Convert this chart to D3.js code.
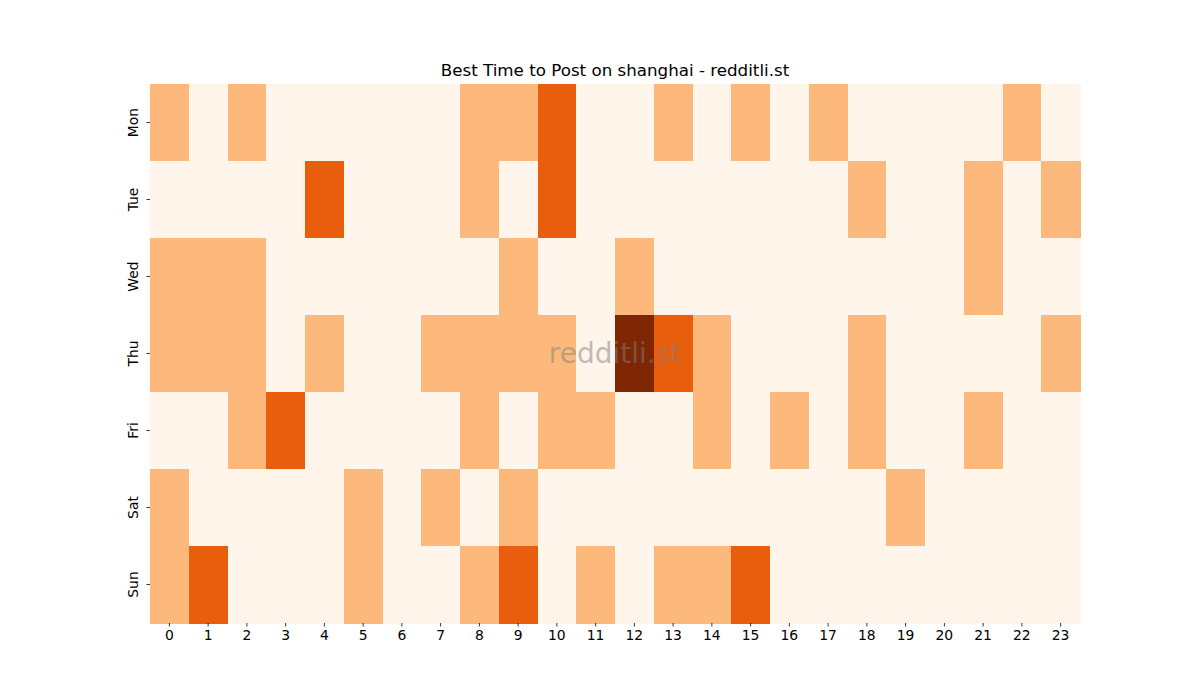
<!DOCTYPE html>
<html><head><meta charset="utf-8">
<script src="https://cdn.jsdelivr.net/npm/d3@7"></script>
<style>body{margin:0;background:#fff;}svg{display:block;font-family:"DejaVu Sans",sans-serif;}</style>
</head><body>
<svg id="c" width="1200" height="700"></svg>
<script>
const days = ["Mon","Tue","Wed","Thu","Fri","Sat","Sun"];
const hours = d3.range(24).map(String);
const monVals = [1,0,1,0,0,0,0,0,1,1,2,0,0,1,0,1,0,1,0,0,0,0,1,0];
const tueVals = [0,0,0,0,2,0,0,0,1,0,2,0,0,0,0,0,0,0,1,0,0,1,0,1];
const wedVals = [1,1,1,0,0,0,0,0,0,1,0,0,1,0,0,0,0,0,0,0,0,1,0,0];
const thuVals = [1,1,1,0,1,0,0,1,1,1,1,0,3,2,1,0,0,0,1,0,0,0,0,1];
const friVals = [0,0,1,2,0,0,0,0,1,0,1,1,0,0,1,0,1,0,1,0,0,1,0,0];
const satVals = [1,0,0,0,0,1,0,1,0,1,0,0,0,0,0,0,0,0,0,1,0,0,0,0];
const sunVals = [1,2,0,0,0,1,0,0,1,2,0,1,0,1,1,2,0,0,0,0,0,0,0,0];
const rows = [monVals,tueVals,wedVals,thuVals,friVals,satVals,sunVals];
const colorStops = ["#fff5eb","#fdb87c","#e95e0d","#7f2704"];
const titleText = "Best Time to Post on shanghai - redditli.st";
const watermark = "redditli.st";

const svg = d3.select("#c");
const L=150,R=1080,T=84,B=623;
const x = d3.scaleBand().domain(hours).range([L,R]).padding(0);
const y = d3.scaleBand().domain(days).range([T,B]).padding(0);
const color = d3.scaleOrdinal().domain([0,1,2,3]).range(colorStops);

const cells = [];
rows.forEach((r,i)=>r.forEach((v,j)=>cells.push({day:days[i],hour:hours[j],v})));
svg.append("g").selectAll("rect").data(cells).join("rect")
  .attr("x",d=>x(d.hour)).attr("y",d=>y(d.day))
  .attr("width",x.bandwidth()+0.5).attr("height",y.bandwidth()+0.5)
  .attr("fill",d=>color(d.v)).attr("shape-rendering","crispEdges");

const xa = svg.append("g").attr("transform",`translate(0,${B})`)
  .call(d3.axisBottom(x).tickSize(3.5).tickPadding(3.5));
xa.select(".domain").remove();
xa.selectAll("text").attr("font-size","13.9px").attr("fill","#000").attr("font-family","DejaVu Sans");
xa.selectAll("line").attr("stroke","#000").attr("stroke-width",0.8);

const ya = svg.append("g").attr("transform",`translate(${L},0)`)
  .call(d3.axisLeft(y).tickSize(3.5).tickPadding(3.5));
ya.select(".domain").remove();
ya.selectAll("line").attr("stroke","#000").attr("stroke-width",0.8);
ya.selectAll("text").attr("font-size","13.9px").attr("fill","#000").attr("font-family","DejaVu Sans")
  .attr("x",null).attr("dy",null)
  .attr("text-anchor","middle")
  .attr("transform","translate(-12.5,0) rotate(-90)")
  .attr("dominant-baseline","auto");

svg.append("text").attr("x",(L+R)/2).attr("y",76).attr("text-anchor","middle")
  .attr("font-size","16.7px").attr("fill","#000").text(titleText);

svg.append("text").attr("x",(L+R)/2).attr("y",363).attr("text-anchor","middle")
  .attr("font-size","28px").attr("fill","#808080").attr("fill-opacity",0.5).text(watermark);
</script>
</body></html>
